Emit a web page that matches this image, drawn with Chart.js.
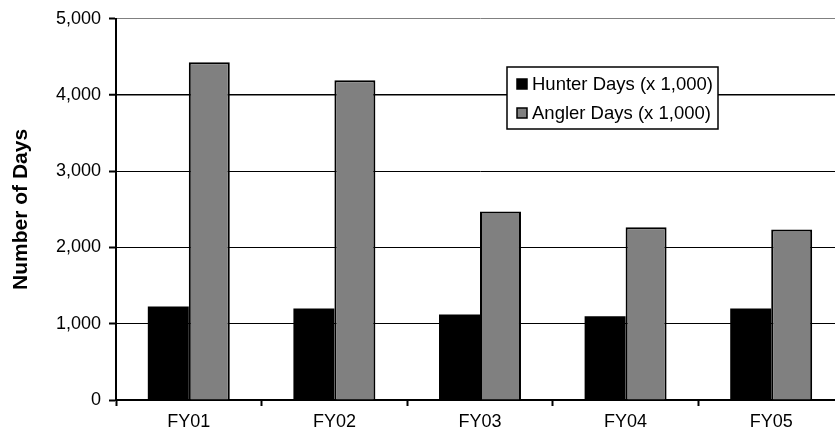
<!DOCTYPE html>
<html>
<head>
<meta charset="utf-8">
<script src="https://cdn.jsdelivr.net/npm/chart.js@4.4.1/dist/chart.umd.min.js"></script>
<style>
  html, body { margin: 0; padding: 0; background: #fff; overflow: hidden; }
  #wrap { width: 850px; height: 435px; position: relative; }
</style>
</head>
<body>
<div id="wrap"><canvas id="c"></canvas></div>
<script>
// Fiscal years on the category axis
const years = ['FY01', 'FY02', 'FY03', 'FY04', 'FY05'];
// Days spent, in thousands
const hunterDays = [1227, 1201, 1123, 1097, 1201];
const anglerDays = [4430, 4195, 2471, 2267, 2236];
// Value axis ticks
const yTicks = [0, 1000, 2000, 3000, 4000, 5000];

const FONT = 'Arial, "Liberation Sans", sans-serif';

// Boxed legend drawn inside the plot area
const boxedLegend = {
  id: 'boxedLegend',
  afterDraw(chart, args, opts) {
    const ctx = chart.ctx;
    const x = opts.x, y = opts.y, w = opts.w, h = opts.h;
    ctx.save();
    ctx.fillStyle = '#fff';
    ctx.fillRect(x, y, w, h);
    ctx.strokeStyle = '#000';
    ctx.lineWidth = 1.5;
    ctx.strokeRect(x, y, w, h);
    ctx.font = opts.fontSize + 'px ' + FONT;
    ctx.textBaseline = 'middle';
    chart.data.datasets.forEach((ds, i) => {
      const cy = y + opts.rowTop + i * opts.rowGap;
      ctx.fillStyle = ds.backgroundColor;
      ctx.fillRect(x + 10, cy - 5, 10, 10);
      ctx.strokeStyle = '#000';
      ctx.lineWidth = 1.5;
      ctx.strokeRect(x + 10, cy - 5, 10, 10);
      ctx.fillStyle = '#000';
      ctx.fillText(ds.label, x + 25, cy + 1);
    });
    ctx.restore();
  }
};

new Chart(document.getElementById('c'), {
  type: 'bar',
  data: {
    labels: years,
    datasets: [
      {
        label: 'Hunter Days (x 1,000)',
        data: hunterDays,
        backgroundColor: '#000000',
        borderColor: '#000000',
        borderWidth: 0
      },
      {
        label: 'Angler Days (x 1,000)',
        data: anglerDays,
        backgroundColor: '#808080',
        borderColor: '#000000',
        borderWidth: 2
      }
    ]
  },
  options: {
    responsive: true,
    maintainAspectRatio: false,
    animation: false,
    layout: { padding: { left: 0, top: 17, right: 6, bottom: 0 } },
    datasets: { bar: { categoryPercentage: 0.563, barPercentage: 1.0 } },
    plugins: {
      legend: { display: false },
      tooltip: { enabled: false },
      boxedLegend: { x: 507, y: 67, w: 211, h: 62, rowTop: 17, rowGap: 29, fontSize: 18.5 }
    },
    scales: {
      x: {
        grid: {
          offset: true,
          drawOnChartArea: false,
          drawTicks: true,
          tickLength: 6,
          tickColor: '#000',
          tickWidth: 2
        },
        border: { display: true, color: '#000', width: 2 },
        ticks: {
          color: '#000',
          padding: 5,
          font: { family: FONT, size: 18 }
        },
        afterFit(scale) { scale.height = 35; }
      },
      y: {
        min: 0,
        max: 5000,
        afterBuildTicks(scale) { scale.ticks = yTicks.map(v => ({ value: v })); },
        grid: {
          color: ctx => (ctx.tick && ctx.tick.value === 5000) ? '#808080' : '#000',
          lineWidth: ctx => (ctx.tick && ctx.tick.value === 4000) ? 1.5 : 1,
          tickLength: 7,
          tickColor: '#000',
          tickWidth: 2
        },
        border: { display: true, color: '#000', width: 2 },
        ticks: {
          color: '#000',
          padding: 8,
          font: { family: FONT, size: 18 },
          callback: v => v.toLocaleString('en-US')
        },
        title: {
          display: true,
          text: 'Number of Days',
          color: '#000',
          font: { family: FONT, size: 21, weight: 'bold' },
          padding: { top: 9, bottom: 0 }
        },
        afterFit(scale) { scale.width = 116; }
      }
    }
  },
  plugins: [boxedLegend]
});
</script>
</body>
</html>
